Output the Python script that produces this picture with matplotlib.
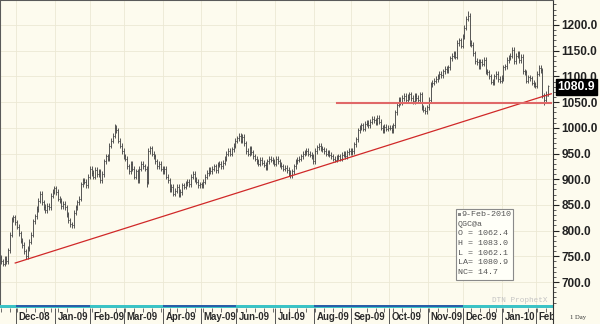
import numpy as np
import pandas as pd
import matplotlib
matplotlib.use("Agg")
import matplotlib.pyplot as plt
from matplotlib.patches import Rectangle
from matplotlib.transforms import blended_transform_factory

plt.rcParams['font.family'] = ['Liberation Sans', 'DejaVu Sans']

# QGC@a daily closes
nov08 = [748, 740, 736, 745, 741, 762, 792, 822, 826, 816]
dec08 = [808, 795, 780, 772, 760, 750, 766, 778, 792, 818, 828, 842, 858, 872, 855, 846, 840, 848, 845, 868, 876, 882]
jan09 = [875, 862, 858, 848, 852, 845, 832, 820, 812, 810, 835, 845, 855, 862, 890, 898, 895, 888, 905, 920]
feb09 = [912, 905, 918, 910, 915, 898, 910, 935, 945, 940, 965, 975, 985, 1000, 995, 975, 965, 955, 945]
mar09 = [940, 925, 915, 930, 920, 905, 915, 898, 920, 930, 925, 920, 895, 955, 960, 950, 945, 935, 925, 930, 920, 915]
apr09 = [920, 905, 898, 880, 885, 872, 878, 885, 870, 875, 888, 885, 892, 895, 890, 905, 910, 900, 895, 888, 890]
may09 = [888, 895, 905, 912, 918, 915, 920, 925, 918, 928, 930, 925, 932, 940, 950, 955, 950, 958, 965, 975]
jun09 = [980, 985, 975, 982, 970, 955, 950, 960, 952, 945, 940, 935, 930, 938, 932, 928, 922, 935, 940, 938, 935, 930]
jul09 = [940, 935, 928, 925, 920, 922, 918, 912, 908, 915, 925, 935, 938, 940, 945, 950, 952, 955, 950, 948, 945, 935]
aug09 = [955, 962, 965, 960, 958, 955, 950, 952, 948, 945, 940, 938, 942, 945, 940, 948, 950, 945, 952, 955, 952]
sep09 = [955, 968, 978, 995, 1000, 1005, 998, 1008, 1010, 1005, 1012, 1018, 1015, 1010, 1020, 1012, 1000, 995, 1002, 998, 1000]
oct09 = [1000, 995, 1005, 1030, 1045, 1055, 1050, 1058, 1062, 1055, 1060, 1065, 1058, 1052, 1062, 1058, 1055, 1065, 1040, 1035, 1032, 1040]
nov09 = [1055, 1085, 1088, 1092, 1095, 1100, 1105, 1102, 1110, 1115, 1112, 1118, 1135, 1140, 1145, 1138, 1165, 1170, 1160, 1178]
dec09 = [1195, 1212, 1218, 1165, 1162, 1145, 1130, 1128, 1120, 1128, 1125, 1132, 1110, 1108, 1100, 1090, 1088, 1100, 1105, 1095, 1092, 1097]
jan10 = [1118, 1120, 1132, 1136, 1140, 1152, 1130, 1140, 1145, 1132, 1138, 1110, 1108, 1092, 1098, 1096, 1088, 1085, 1082]
feb10 = [1105, 1117, 1112, 1063, 1055, 1066, 1080.9]

last_bar = {"o": 1062.4, "h": 1083.0, "l": 1062.1, "c": 1080.9}
extra_high = {"2009-12-03": 1227.0, "2009-02-20": 1007.0}
extra_low = {"2010-02-05": 1044.0, "2009-03-18": 885.0}

holidays = ["2008-11-27", "2008-12-25", "2009-01-01", "2009-01-19", "2009-02-16", "2009-04-10",
            "2009-05-25", "2009-07-03", "2009-09-07", "2009-11-26", "2009-12-25", "2010-01-01", "2010-01-18"]

trend_from = ("2008-11-28", 737.0)
trend_to = ("2010-02-09", 1064.0)
support = ("2009-08-19", 1049.0)
blue_months = [("2008-12", "2009-01"), ("2009-04", "2009-05"), ("2009-08", "2009-11")]
info_lines = ["9-Feb-2010", "QGC@a", "O = 1062.4", "H = 1083.0", "L = 1062.1", "LA= 1080.9", "NC= 14.7"]

closes = np.array(nov08 + dec08 + jan09 + feb09 + mar09 + apr09 + may09 + jun09 + jul09
                  + aug09 + sep09 + oct09 + nov09 + dec09 + jan10 + feb10, dtype=float)
dates = pd.bdate_range("2008-11-14", "2010-02-09", freq="C", holidays=holidays)
assert len(dates) == len(closes), (len(dates), len(closes))

idx = np.arange(len(closes))
tail = 5.0  # daily range beyond open/close
opens = np.r_[closes[0], closes[:-1]]
highs = np.maximum(opens, closes) + tail
lows = np.minimum(opens, closes) - tail
for d, v in extra_high.items():
    highs[dates.get_loc(pd.Timestamp(d))] = v
for d, v in extra_low.items():
    lows[dates.get_loc(pd.Timestamp(d))] = v
opens[-1], highs[-1], lows[-1], closes[-1] = last_bar["o"], last_bar["h"], last_bar["l"], last_bar["c"]

bg = '#fdfbee'
fig = plt.figure(figsize=(6, 3.24), dpi=100, facecolor=bg)
W, H = 600.0, 324.0
ax = fig.add_axes([0, 19 / H, 553 / W, 305 / H], facecolor=bg)
xlim = (0.42, 0.42 + 553 / 1.775)
ax.set_xlim(*xlim)
ax.set_ylim(655.3, 1248.6)

# month starts
mstart = np.r_[0, np.nonzero(np.diff(dates.month))[0] + 1]
mstart = mstart[1:]

for v in np.arange(700, 1201, 50):
    ax.axhline(v, color='#ece8d4', lw=0.6, zorder=0)
for m in mstart:
    ax.axvline(m - 0.6, color='#ece8d4', lw=0.6, zorder=0)

bar_c = '#4a4a4a'
ax.vlines(idx, lows, highs, color=bar_c, lw=0.65, zorder=2)
ax.hlines(opens, idx - 0.55, idx, color=bar_c, lw=0.55, zorder=2)
ax.hlines(closes, idx, idx + 0.55, color=bar_c, lw=0.55, zorder=2)

# trend line and support
i0 = dates.get_loc(pd.Timestamp(trend_from[0]))
i1 = dates.get_loc(pd.Timestamp(trend_to[0]))
slope = (trend_to[1] - trend_from[1]) / (i1 - i0)
iend = len(closes) + 1
ax.plot([i0, iend], [trend_from[1], trend_from[1] + slope * (iend - i0)], color='#d02828', lw=0.9, zorder=3)
si = dates.get_loc(pd.Timestamp(support[0]))
ax.plot([si, iend], [support[1], support[1]], color='#e06868', lw=1.5, zorder=3)

ax.yaxis.tick_right()
ax.set_xticks([])
ax.set_yticks(np.arange(700, 1201, 50))
ax.set_yticklabels([f"{v:.1f}" for v in np.arange(700, 1201, 50)])
ax.set_yticks(np.arange(660, 1250, 10), minor=True)
ax.tick_params(axis='y', which='major', length=4, width=0.8, pad=2, labelsize=8.5, colors='#222222')
ax.tick_params(axis='y', which='minor', length=2, width=0.6, colors='#444444')
for lbl in ax.get_yticklabels():
    lbl.set_fontweight('bold')
for s in ['top', 'left']:
    ax.spines[s].set_color('#5a5a5a')
    ax.spines[s].set_linewidth(1.5)
ax.spines['right'].set_color('#333333')
ax.spines['right'].set_linewidth(0.8)
ax.spines['bottom'].set_visible(False)

tr = blended_transform_factory(ax.transAxes, ax.transData)
ax.text(1.008, last_bar["c"] - 1.5, f"{last_bar['c']:.1f}", transform=tr, ha='left', va='center',
        color='white', fontsize=8.8, fontweight='bold', clip_on=False, zorder=10,
        bbox=dict(boxstyle='square,pad=0.15', fc='black', ec='black'))

# bottom date strip
ax2 = fig.add_axes([0, 0, 553 / W, 19 / H], facecolor=bg, sharex=ax)
ax2.set_ylim(0, 19)
ax2.axhspan(16, 19, color='#3cc3c6', lw=0)
for a, b in blue_months:
    ia = np.nonzero(dates.strftime('%Y-%m') == a)[0][0]
    ib = np.nonzero(dates.strftime('%Y-%m') == b)[0][-1]
    ax2.add_patch(Rectangle((ia - 0.6, 16.6), ib - ia + 1, 2.4, color='#2a5ea8', lw=0))
mondays = idx[dates.dayofweek == 0]
ax2.vlines(mondays, 12.5, 16, color='#555555', lw=0.6)
ax2.vlines(mstart - 0.6, 0, 16, color='#555555', lw=0.7)
for m in mstart:
    ax2.text(m + 0.8, 7.5, dates[m].strftime('%b-%y'), fontsize=6.9, fontweight='bold',
             color='#2a2a2a', ha='left', va='center', clip_on=True)
ax2.set_xticks([])
ax2.set_yticks([])
for s in ['top', 'left', 'bottom']:
    ax2.spines[s].set_visible(False)
ax2.spines['right'].set_color('#333333')
ax2.spines['right'].set_linewidth(0.8)
ax.set_xlim(*xlim)


def px(x, y):
    return x / W, 1 - y / H


fig.text(*px(578, 317), "1 Day", fontsize=4.8, family='Liberation Serif', color='#333333',
         ha='center', va='center')
fig.text(*px(548, 301), "DTN ProphetX", fontsize=5.5, family='Liberation Mono', color='#c4c4c4',
         ha='right', va='center')

# info box
bx0, by0, bx1, by1 = 456, 209, 513, 280
fig.patches.append(Rectangle(px(bx0, by1), (bx1 - bx0) / W, (by1 - by0) / H, transform=fig.transFigure,
                             fc='#fffff8', ec='#8a8a8a', lw=0.8, zorder=5))
fig.patches.append(Rectangle(px(457.5, 215.5), 3 / W, 3 / H, transform=fig.transFigure,
                             fc='#888888', ec='none', zorder=6))
for k, line in enumerate(info_lines):
    fig.text(*px(461 if k == 0 else 458, 214.5 + k * 9.7), line, fontsize=6, family='Liberation Mono',
             color='#555555', ha='left', va='center', zorder=7)

fig.savefig("out.png", dpi=100, facecolor=bg)
